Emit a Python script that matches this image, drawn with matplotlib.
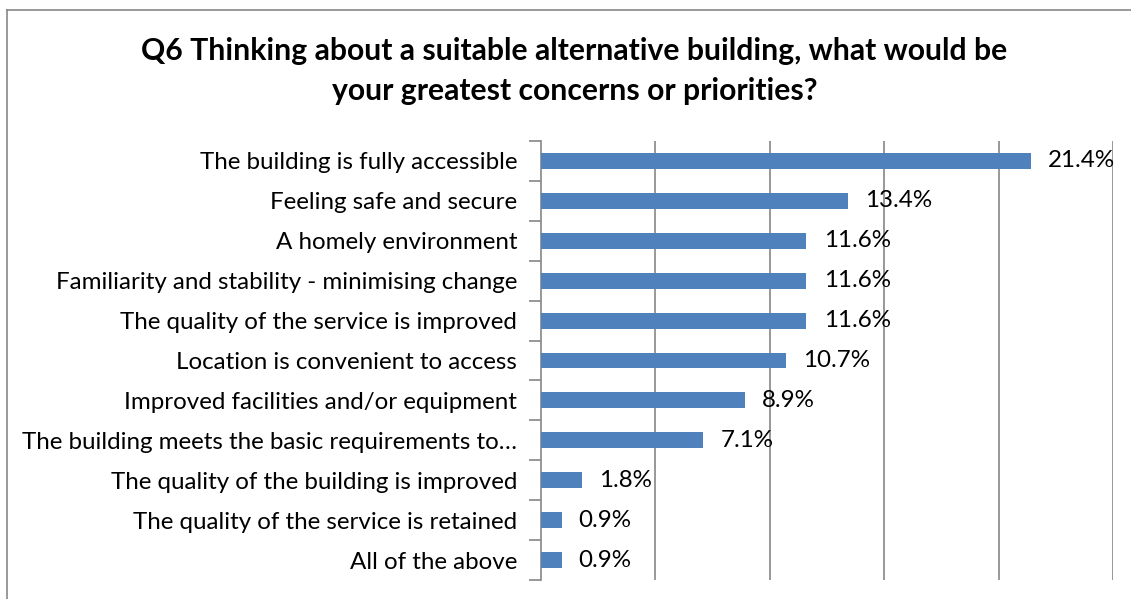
import matplotlib
matplotlib.use("Agg")
import matplotlib.pyplot as plt
import numpy as np

# Q6 survey responses (share of answers, %)
categories = [
    "The building is fully accessible",
    "Feeling safe and secure",
    "A homely environment",
    "Familiarity and stability - minimising change",
    "The quality of the service is improved",
    "Location is convenient to access",
    "Improved facilities and/or equipment",
    "The building meets the basic requirements to\u2026",
    "The quality of the building is improved",
    "The quality of the service is retained",
    "All of the above",
]
values = [21.4, 13.4, 11.6, 11.6, 11.6, 10.7, 8.9, 7.1, 1.8, 0.9, 0.9]
value_labels = ["21.4%", "13.4%", "11.6%", "11.6%", "11.6%", "10.7%",
                "8.9%", "7.1%", "1.8%", "0.9%", "0.9%"]

title = ("Q6 Thinking about a suitable alternative building, what would be\n"
         "your greatest concerns or priorities?")

plt.rcParams['font.family'] = ['Lato', 'DejaVu Sans']

bar_color = '#4F81BD'
grid_color = '#868686'

fig = plt.figure(figsize=(11.31, 5.99), dpi=100)

# outer chart frame (only left and top edges are visible in the crop)
fig.add_artist(plt.Line2D([0.0062, 0.0062], [0, 0.983], transform=fig.transFigure,
                          color='#888888', lw=1.2))
fig.add_artist(plt.Line2D([0.0062, 1], [0.983, 0.983], transform=fig.transFigure,
                          color='#888888', lw=1.2))

ax = fig.add_axes([0.4783, 0.0317, 0.5058, 0.7329])

y = np.arange(len(categories))
ax.barh(y, values, height=0.4, color=bar_color, zorder=3)

ax.set_xlim(0, 25)
ax.set_ylim(len(categories) - 0.5, -0.5)
ax.set_xticks([5, 10, 15, 20, 25])
ax.xaxis.grid(True, color=grid_color, lw=1.2, zorder=0)
ax.tick_params(axis='x', length=0, labelbottom=False)

ax.set_yticks(y)
ax.set_yticklabels(categories, fontsize=17.4)
ax.tick_params(axis='y', which='major', length=0, pad=17)
ax.set_yticks(np.arange(len(categories) + 1) - 0.5, minor=True)
ax.tick_params(axis='y', which='minor', length=9, width=1.2, color=grid_color)

for s in ['top', 'right', 'bottom']:
    ax.spines[s].set_visible(False)
ax.spines['left'].set_color(grid_color)
ax.spines['left'].set_linewidth(1.2)

for yi, v, lab in zip(y, values, value_labels):
    ax.text(v + 0.75, yi, lab, va='center', ha='left', fontsize=17.4)

fig.text(0.508, 0.8815, title, ha='center', va='center', fontsize=21.7,
         fontweight='bold', linespacing=1.52)

fig.savefig("out.png", dpi=100)
